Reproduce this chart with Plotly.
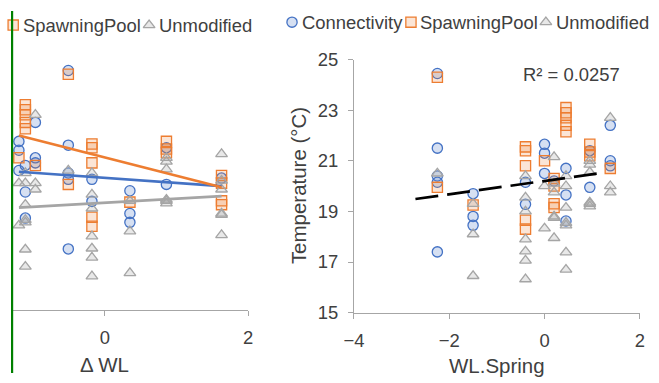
import plotly.graph_objects as go

# Figure size; the page adds an 8px body margin around it and the captured
# 675x399 page is shown at 659x383, so layout positions below are given in
# shown-pixel units and converted with SX/SY.
W, H = 659, 383
PAD = 8
SX = W / (W + 2 * PAD)
SY = H / (H + 2 * PAD)

# Water-level metrics of each site (shared by both panels)
wl_spring = [-2.25, -1.5, -0.4, 0.0, 0.2, 0.45, 0.95, 1.38]
delta_wl = [-0.51, 0.35, -0.18, -1.2, 1.63, -1.11, 0.86, -0.97]

# Temperature observations (°C) per restoration type, with their site index
conn_site = [0, 0, 0, 0, 0, 1, 1, 1, 2, 2, 3, 3, 3, 4, 5, 5, 5, 6, 6, 7, 7, 7]
conn_temp = [24.45, 21.5, 20.4, 20.15, 17.4, 19.7, 18.8, 18.45, 20.15, 19.28,
             21.65, 21.3, 20.5, 20.2, 20.7, 19.65, 18.62, 21.4, 19.95,
             22.4, 21.0, 20.8]

spawn_site = [0, 0, 1, 2, 2, 2, 2, 2, 3, 4, 4, 4, 4, 5, 5, 5, 5, 5, 6, 6, 6, 7]
spawn_temp = [24.3, 19.95, 19.25, 21.55, 21.4, 20.8, 18.65, 18.3, 21.0,
              20.3, 20.0, 19.3, 19.15, 23.1, 22.9, 22.7, 22.4, 22.15,
              21.65, 21.35, 21.2, 20.7]

unmod_site = [0, 1, 1, 1, 2, 2, 2, 2, 2, 2, 2, 3, 3, 4, 4, 4, 4, 4, 4,
              5, 5, 5, 5, 5, 5, 5, 6, 6, 6, 6, 6, 6, 7, 7, 7]
unmod_temp = [20.5, 19.3, 18.1, 16.45, 20.4, 19.55, 19.0, 17.9, 17.42, 17.06,
              16.32, 20.0, 18.33, 21.15, 20.1, 19.75, 18.8, 18.75, 17.95,
              20.4, 20.0, 19.15, 18.55, 18.45, 17.38, 16.7,
              21.0, 20.85, 20.55, 19.35, 19.3, 19.2, 22.7, 20.0, 19.75]

# Linear trendlines
dwl_trend_x = [-1.2, 1.63]
conn_trend_y = [20.45, 19.88]
spawn_trend_y = [21.88, 19.84]
unmod_trend_y = [19.03, 19.49]
spring_trend_x = [-2.71, 1.13]
spring_trend_y = [19.49, 20.5]
r_squared = 0.0257

FONT = "Liberation Sans, Arial, sans-serif"
TXT = "#404040"
AXC = "#a6a6a6"

series = [
    ("Connectivity", conn_site, conn_temp, "circle", "#4472C4", "rgba(68,114,196,0.22)", conn_trend_y),
    ("SpawningPool", spawn_site, spawn_temp, "square", "#ED7D31", "rgba(237,125,49,0.2)", spawn_trend_y),
    ("Unmodified", unmod_site, unmod_temp, "triangle-up", "#A5A5A5", "rgba(165,165,165,0.25)", unmod_trend_y),
]


def fx(p):
    """Shown x pixel -> paper fraction."""
    return (p / SX - PAD) / W


def fy(p):
    """Shown y pixel -> paper fraction."""
    return 1 - (p / SY - PAD) / H


def sz(v):
    return v / SX


MK = sz(10)
LW = 1.3

# Left panel x axis: 0 sits at shown x 101.7, one unit spans 71.65 px
DWL_ZERO, DWL_UNIT = 101.7, 71.65
dwl_left = (SX * PAD - DWL_ZERO) / DWL_UNIT

fig = go.Figure()

for name, site, temp, sym, col, fill, _ in series:
    mk = dict(symbol=sym, size=MK, color=fill, line=dict(color=col, width=LW))
    fig.add_trace(go.Scatter(x=[delta_wl[s] for s in site], y=temp, mode="markers",
                             marker=mk, name=name, showlegend=False,
                             xaxis="x", yaxis="y", cliponaxis=False))
    fig.add_trace(go.Scatter(x=[wl_spring[s] for s in site], y=temp, mode="markers",
                             marker=mk, name=name, showlegend=False,
                             xaxis="x2", yaxis="y2", cliponaxis=False))

for name, _, _, _, col, _, ty in series:
    fig.add_trace(go.Scatter(x=dwl_trend_x, y=ty, mode="lines",
                             line=dict(color=col, width=2.7), showlegend=False,
                             xaxis="x", yaxis="y", hoverinfo="skip"))

fig.add_trace(go.Scatter(x=spring_trend_x, y=spring_trend_y, mode="lines",
                         line=dict(color="black", width=2.7, dash="23px,9px"),
                         showlegend=False, xaxis="x2", yaxis="y2", hoverinfo="skip"))

# Legend keys drawn on a full-page overlay measured in shown pixels
legend_rows = [
    # (row y, [(series index, key x, text x)])
    (22, [(1, 10, 19), (2, 146, 155)]),
    (19, [(0, 289, 298), (1, 408, 416), (2, 543, 552)]),
]
annotations = []
for ky, items in legend_rows:
    for idx, kx, tx in items:
        name, _, _, sym, col, fill, _ = series[idx]
        fig.add_trace(go.Scatter(x=[kx], y=[ky], mode="markers",
                                 marker=dict(symbol=sym, size=MK, color=fill,
                                             line=dict(color=col, width=LW)),
                                 showlegend=False, xaxis="x3", yaxis="y3",
                                 hoverinfo="skip", cliponaxis=False))
        annotations.append(dict(text=name, x=fx(tx), y=fy(ky), xref="paper", yref="paper",
                                xanchor="left", yanchor="middle", showarrow=False,
                                borderpad=0, font=dict(size=sz(18), color=TXT)))

annotations += [
    dict(text="Δ WL", x=0, y=fy(367), xref="x", yref="paper", xanchor="center",
         yanchor="middle", showarrow=False, font=dict(size=sz(20), color=TXT)),
    dict(text="WL.Spring", x=0.5, y=fy(368), xref="x2 domain", yref="paper",
         xanchor="center", yanchor="middle", showarrow=False,
         font=dict(size=sz(20), color=TXT)),
    dict(text="Temperature (°C)", x=fx(295), y=0.5, xref="paper", yref="y2 domain",
         textangle=-90, xanchor="center", yanchor="middle", showarrow=False,
         font=dict(size=sz(20), color=TXT)),
    dict(text=f"R² = {r_squared}", x=fx(519), y=fy(72), xref="paper", yref="paper",
         xanchor="left", yanchor="middle", showarrow=False, borderpad=0,
         font=dict(size=sz(18), color=TXT)),
]

axis_common = dict(showline=True, linecolor=AXC, linewidth=1, ticks="outside",
                   ticklen=5, tickcolor=AXC, showgrid=False, zeroline=False,
                   tickfont=dict(size=sz(18), color=TXT), ticklabelstandoff=6)

fig.update_layout(
    width=W, height=H, margin=dict(l=0, r=0, t=0, b=0),
    paper_bgcolor="white", plot_bgcolor="rgba(0,0,0,0)",
    font=dict(family=FONT, color=TXT),
    showlegend=False,
    xaxis=dict(domain=[0, fx(245)], range=[dwl_left, 2],
               tickvals=[0, 2], anchor="y", **axis_common),
    yaxis=dict(domain=[fy(311), fy(54)], range=[15, 25], visible=False, anchor="x"),
    xaxis2=dict(domain=[fx(351), fx(637)], range=[-4, 2], tick0=-4, dtick=2, anchor="y2",
                **axis_common),
    yaxis2=dict(domain=[fy(314), fy(57)], range=[15, 25], tick0=15, dtick=2, anchor="x2",
                **axis_common),
    xaxis3=dict(domain=[0, 1], range=[SX * PAD, SX * (PAD + W)], visible=False, anchor="y3"),
    yaxis3=dict(domain=[0, 1], range=[SY * (PAD + H), SY * PAD], visible=False, anchor="x3"),
    annotations=annotations,
    shapes=[dict(type="rect", xref="paper", yref="paper", x0=0, x1=fx(10), y0=0, y1=1,
                 fillcolor="#008000", line=dict(width=0), layer="above")],
)

fig.write_html("out.html")
